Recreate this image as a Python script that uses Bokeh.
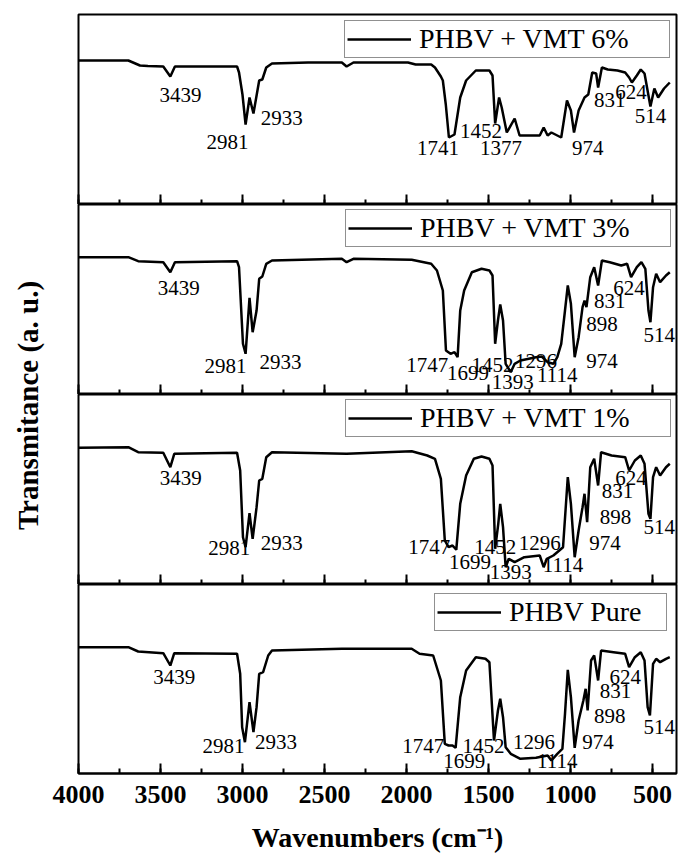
from math import pi
from bokeh.plotting import figure
from bokeh.models import Range1d, SingleIntervalTicker, Label, ColumnDataSource
from bokeh.layouts import row, column
from bokeh.core.properties import value
from bokeh.embed import file_html
from bokeh.resources import INLINE

# ---------------- data ----------------
names = ["PHBV + VMT 6%", "PHBV + VMT 3%", "PHBV + VMT 1%", "PHBV Pure"]

wn_6 = [4000, 3696, 3625, 3577, 3483, 3440, 3412, 3033, 3021, 3000, 2981, 2957, 2933, 2898, 2879, 2855, 2820,
        2600, 2394, 2365, 2323, 1991, 1944, 1849, 1826, 1790, 1778, 1760, 1741, 1707, 1672, 1636, 1577, 1494,
        1475, 1459, 1435, 1419, 1388, 1340, 1310, 1250, 1187, 1163, 1139, 1116, 1056, 1021, 997, 978, 950, 914,
        891, 867, 843, 831, 808, 772, 713, 666, 642, 625, 595, 571, 548, 524, 512, 488, 465, 429, 394]
tr_6 = [144, 144, 139, 138.5, 138, 128, 138, 138, 132, 110, 80, 107, 91, 124, 125, 137, 141,
        142, 142, 138, 142, 142, 140, 140, 137, 128, 124, 100, 67, 70, 107, 124, 134, 134,
        129, 81, 107, 97, 72, 86, 69, 69, 69, 77, 69, 72, 67, 104, 94, 72, 94, 107,
        110, 132, 131, 117, 137, 135, 134, 132, 127, 122, 129, 135, 131, 109, 98, 116, 107, 116, 122]

wn_3 = [4000, 3696, 3636, 3483, 3440, 3412, 3033, 3021, 2997, 2981, 2957, 2938, 2914, 2898, 2879, 2855, 2820,
        2394, 2365, 2323, 1968, 1849, 1814, 1778, 1759, 1731, 1707, 1688, 1672, 1648, 1601, 1542, 1494, 1475,
        1459, 1442, 1428, 1411, 1395, 1364, 1340, 1305, 1210, 1175, 1139, 1104, 1080, 1056, 1033, 1016, 997,
        974, 950, 926, 914, 902, 879, 855, 831, 808, 760, 690, 654, 630, 595, 567, 543, 524, 512, 496, 477,
        453, 417, 394]
tr_3 = [137.3, 137.3, 133.3, 132.3, 122.3, 132.3, 133.3, 127.3, 50.7, 40.7, 96.7, 62.3, 84, 115.7, 118, 130.7, 134,
        135.7, 132.3, 135.7, 134.7, 130.7, 124, 104, 44, 40.7, 42.3, 37.3, 84, 104, 122.3, 125.7, 124, 119,
        50.7, 74, 90, 74, 30.7, 22.3, 30.7, 34, 37.3, 38, 32.3, 30.7, 37.3, 50.7, 84, 109, 90.7,
        37.3, 57.3, 87.3, 94, 87.3, 117.3, 127.3, 109, 134, 132.3, 129, 130.7, 117.3, 127.3, 132.3, 125.7, 84, 72.3, 107.3, 120.7,
        112.3, 119, 122.3]

wn_1 = [4000, 3696, 3636, 3483, 3440, 3416, 3033, 3014, 2997, 2981, 2957, 2938, 2914, 2898, 2879, 2855, 2820,
        2365, 1968, 1873, 1826, 1790, 1766, 1743, 1719, 1696, 1672, 1636, 1589, 1542, 1494, 1475,
        1459, 1440, 1428, 1411, 1395, 1376, 1340, 1281, 1187, 1163, 1144, 1104, 1068, 1045, 1016, 997,
        974, 950, 926, 914, 898, 879, 855, 831, 813, 749, 666, 642, 607, 571, 548, 524, 512, 496, 477,
        453, 417, 394]
tr_1 = [136.7, 137.3, 132.3, 131.7, 117.3, 130.7, 131.7, 114, 47.3, 37.3, 71.3, 45.7, 77.3, 104, 105.7, 127.3, 132.3,
        130.7, 133.3, 129, 125.7, 105.7, 44, 37.3, 39, 34.7, 80.7, 109, 125.7, 128, 125.7, 119,
        35.7, 60.7, 80.7, 57.3, 17.3, 25.7, 22.3, 27.3, 29, 17.3, 25.7, 29, 34, 37.3, 107.3, 80.7,
        27.3, 54, 77.3, 90.7, 62.3, 117.3, 125.7, 99, 132.3, 129, 127.3, 114, 124, 129, 120.7, 70.7, 65.7, 107.3, 117.3,
        109, 117.3, 120.7]

wn_p = [4000, 3696, 3636, 3483, 3440, 3416, 3033, 3014, 3002, 2985, 2957, 2933, 2914, 2898, 2874, 2843, 2820,
        2394, 1968, 1920, 1837, 1790, 1766, 1743, 1719, 1700, 1672, 1636, 1577, 1518, 1494,
        1466, 1442, 1428, 1411, 1395, 1364, 1305, 1210, 1139, 1116, 1080, 1049, 1033, 1016, 997,
        974, 950, 921, 907, 895, 874, 855, 831, 813, 737, 666, 642, 607, 571, 548, 529, 515, 496, 477,
        453, 417, 394]
tr_p = [126.3, 126.3, 122, 120.3, 108, 120.3, 119.7, 99.7, 46.3, 31.3, 71.3, 41.3, 66.3, 99.7, 101.3, 118, 123,
        124.7, 124.7, 119.7, 118, 93, 29.7, 28, 28, 25.7, 76.3, 103, 116.3, 114.7, 111.3,
        33, 63, 74.7, 56.3, 26.3, 19.7, 14.7, 15.7, 18, 13, 19.7, 24.7, 59.7, 103.7, 76.3,
        25.7, 53, 73, 84.7, 63, 113, 118, 93, 123, 121.3, 119.7, 106.3, 116.3, 121.3, 113, 66.3, 58, 109.7, 114.7,
        111.3, 114.7, 116.3]

# peak annotations: text, wavenumber position, height position
lab_6 = ["3439", "2981", "2933", "1741", "1452", "1377", "974", "831", "624", "514"]
lab_6_x = [3378, 3092, 2761, 1807, 1546, 1423, 895, 760, 630, 512]
lab_6_y = [110, 63, 87, 57, 74, 57, 57, 105, 113, 89]

lab_3 = ["3439", "2981", "2933", "1747", "1699", "1452", "1393", "1296", "1114", "974", "898", "831", "624", "514"]
lab_3_x = [3388, 3104, 2768, 1873, 1624, 1475, 1352, 1210, 1080, 808, 808, 760, 642, 458]
lab_3_y = [106.7, 28.7, 32.3, 30, 21.7, 30, 13, 33.3, 20, 33.3, 70.7, 93.3, 106.7, 60]

lab_1 = ["3439", "2981", "2933", "1747", "1699", "1452", "1393", "1296", "1114", "974", "898", "831", "624", "514"]
lab_1_x = [3376, 3080, 2761, 1861, 1613, 1459, 1364, 1187, 1045, 789, 725, 713, 630, 458]
lab_1_y = [106.7, 36.7, 41.7, 37.3, 22.3, 38, 13, 41.3, 20, 41.3, 68, 94, 106.7, 57.3]

lab_p = ["3439", "2981", "2933", "1747", "1699", "1452", "1296", "1114", "974", "898", "831", "624", "514"]
lab_p_x = [3416, 3116, 2796, 1897, 1648, 1530, 1222, 1080, 832, 760, 725, 666, 458]
lab_p_y = [96.3, 28, 31.3, 28, 13, 28, 31.3, 13, 31.3, 58, 83, 96.3, 46.3]

x_ticks_interval = 500

# ---------------- figures ----------------
SERIF = "Liberation Serif"
xr = Range1d(4000, 353)


def panel(wn, tr, name, lt, lx, ly, width, height, top, bottom, left, ymax,
          last=False, legend_margin=5, label_width=248):
    p = figure(width=width, height=height, x_range=xr, y_range=Range1d(0, ymax),
               output_backend="svg", toolbar_location=None,
               min_border_left=left, min_border_right=2, min_border_top=top, min_border_bottom=bottom)
    p.outline_line_color = "black"
    p.outline_line_width = 2
    p.outline_line_alpha = 1
    p.grid.visible = False
    p.yaxis.visible = False
    p.background_fill_color = "white"
    p.border_fill_color = "white"
    ax = p.xaxis[0]
    ax.ticker = SingleIntervalTicker(interval=x_ticks_interval, num_minor_ticks=2)
    ax.major_tick_in = 10
    ax.major_tick_out = 0
    ax.minor_tick_in = 5
    ax.minor_tick_out = 0
    ax.major_tick_line_width = 2
    ax.minor_tick_line_width = 2
    ax.axis_line_width = 2
    if last:
        ax.major_label_text_font = SERIF
        ax.major_label_text_font_style = "bold"
        ax.major_label_text_font_size = "26px"
        ax.major_label_text_color = "black"
        ax.major_label_standoff = 12
        ax.axis_label = "Wavenumbers (cm\u207b\u00b9)"
        ax.axis_label_text_font = SERIF
        ax.axis_label_text_font_style = "bold"
        ax.axis_label_text_font_size = "28px"
        ax.axis_label_text_color = "black"
        ax.axis_label_standoff = 16
    else:
        ax.major_label_text_font_size = "0px"
        ax.major_label_text_color = None
        ax.major_label_standoff = 0
    p.line(wn, tr, line_color="black", line_width=2.5, legend_label=name)
    src = ColumnDataSource(dict(x=lx, y=ly, t=lt))
    p.text(x="x", y="y", text="t", source=src, text_font=value(SERIF), text_font_size="21px",
           text_align="center", text_baseline="middle", text_color="black")
    lg = p.legend[0]
    lg.location = "top_right"
    lg.margin = legend_margin
    lg.padding = 2
    lg.spacing = 0
    lg.glyph_width = 64
    lg.label_standoff = 8
    lg.label_width = label_width
    lg.label_text_font = SERIF
    lg.label_text_font_size = "28px"
    lg.label_text_color = "black"
    lg.border_line_color = "#222222"
    lg.border_line_width = 1
    lg.background_fill_alpha = 1
    return p


p1 = panel(wn_6, tr_6, names[0], lab_6, lab_6_x, lab_6_y, 602, 204, 14, 0, 2, 190, legend_margin=6)
p2 = panel(wn_3, tr_3, names[1], lab_3, lab_3_x, lab_3_y, 602, 190, 0, 0, 2, 190, legend_margin=5)
p3 = panel(wn_1, tr_1, names[2], lab_1, lab_1_x, lab_1_y, 602, 190, 0, 0, 2, 190, legend_margin=5)
p4 = panel(wn_p, tr_p, names[3], lab_p, lab_p_x, lab_p_y, 678, 280, 0, 91, 78, 189, last=True,
           legend_margin=9, label_width=155)

lf = figure(width=76, height=584, x_range=Range1d(0, 76), y_range=Range1d(0, 570),
            output_backend="svg", toolbar_location=None, min_border=0, min_border_top=14)
lf.outline_line_color = None
lf.axis.visible = False
lf.grid.visible = False
lf.add_layout(Label(x=27, y=179, text="Transmitance (a. u.)", angle=pi / 2,
                    text_align="center", text_baseline="middle", text_font=SERIF,
                    text_font_style="bold", text_font_size="29px", text_color="black"))

layout = column(row(lf, column(p1, p2, p3)), p4)

open("out.html", "w").write(file_html(layout, INLINE))
